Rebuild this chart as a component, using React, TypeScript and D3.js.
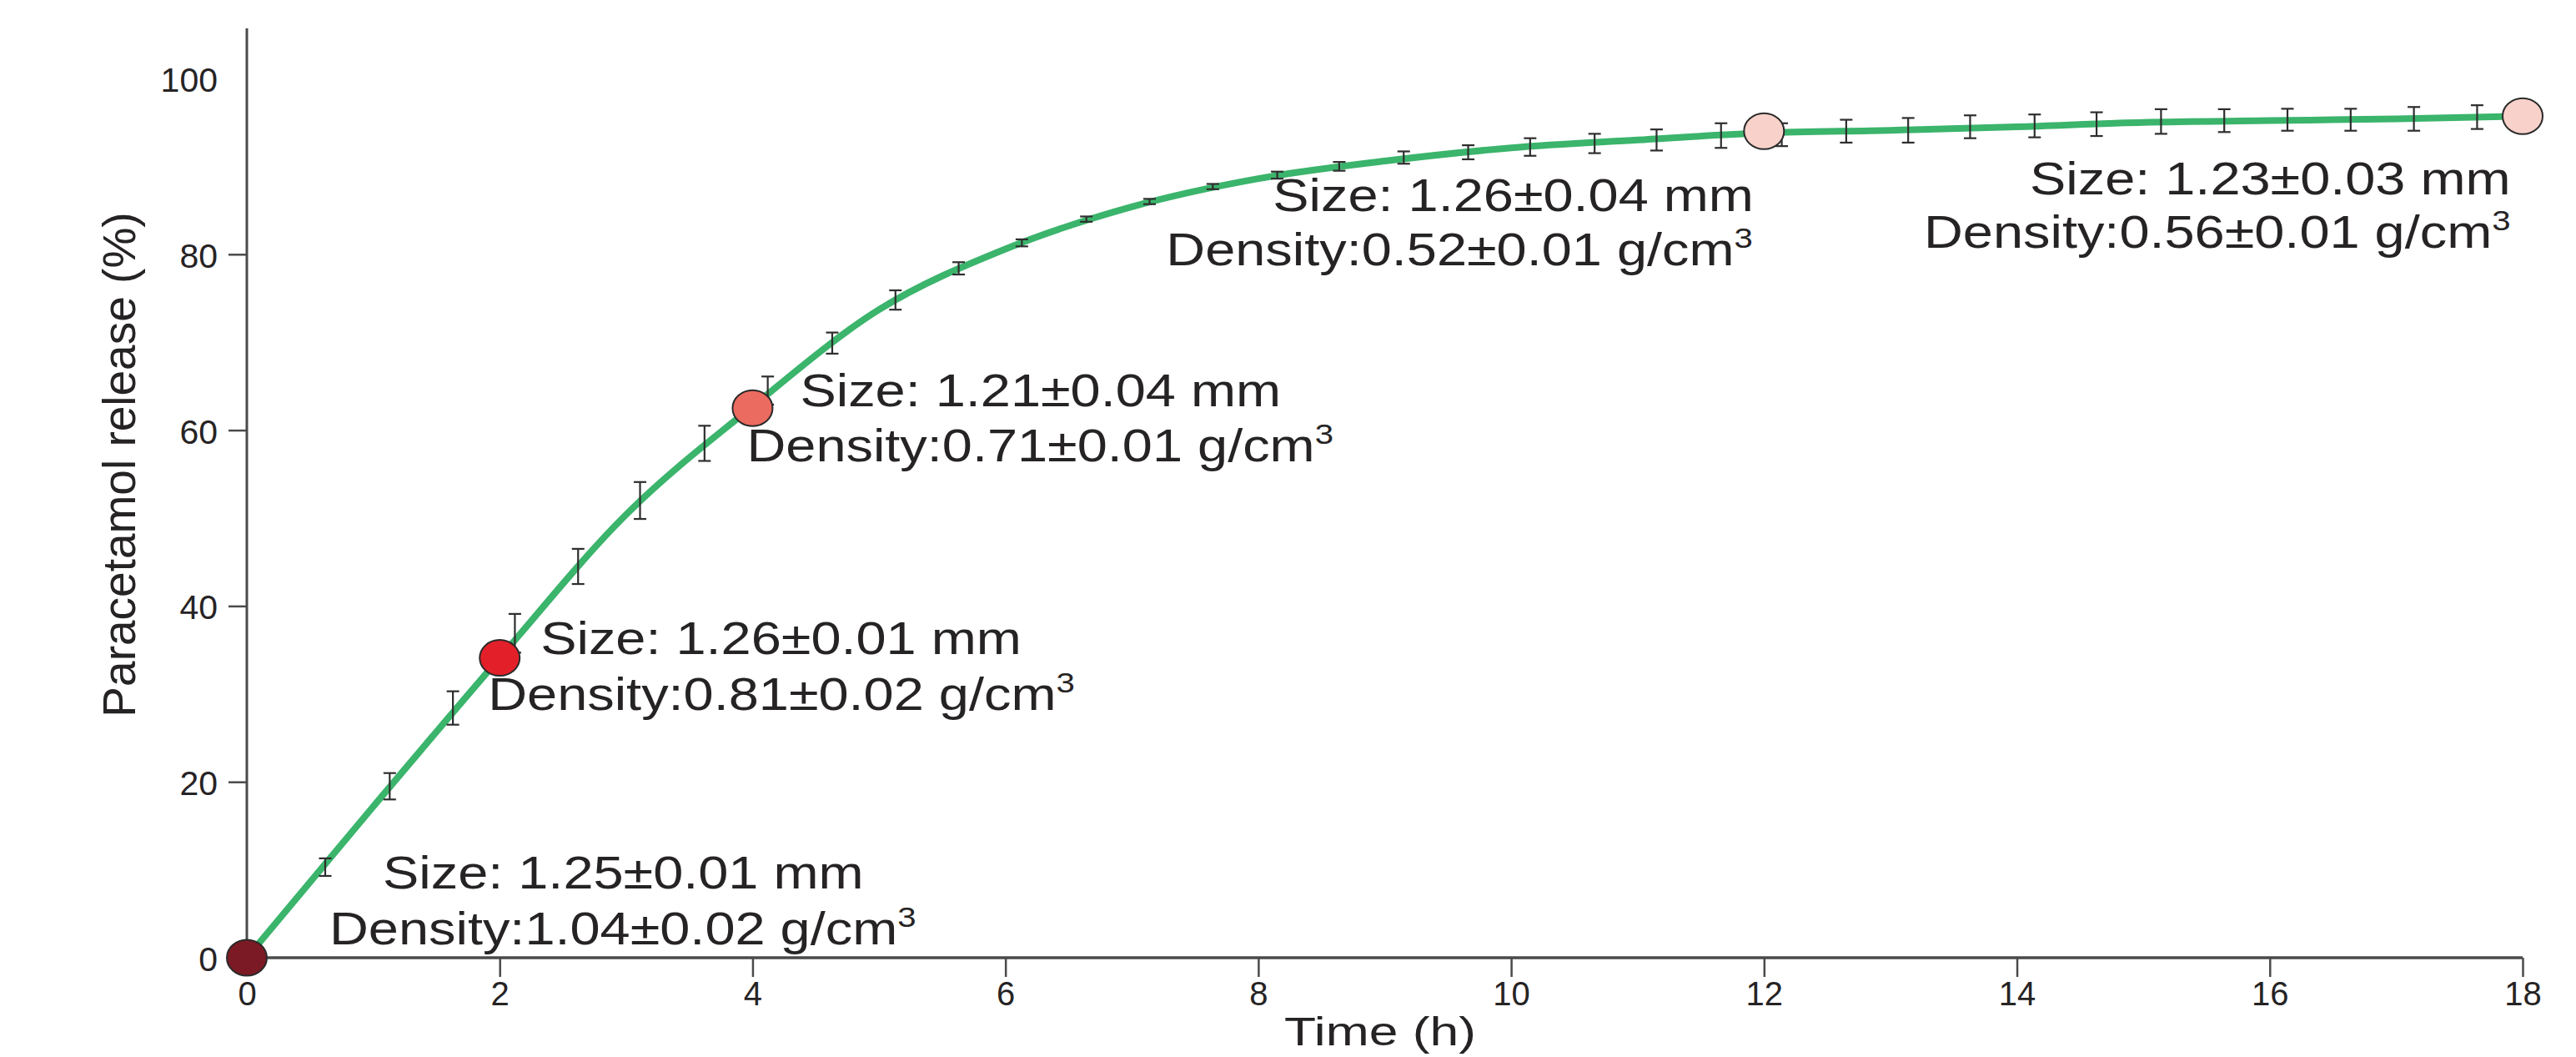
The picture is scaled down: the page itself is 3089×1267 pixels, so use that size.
import * as d3 from "d3";
import { useRef, useEffect } from "react";

// values
const timeTicks = [0, 2, 4, 6, 8, 10, 12, 14, 16, 18];
const releaseTicks = [0, 20, 40, 60, 80, 100];

// fitted release curve (h, %)
const curveTime = [0, 1, 2, 3, 4, 5, 6, 7, 8, 9, 10, 11, 12, 13, 14, 15, 16, 17, 18];
const curveRelease = [0, 17.2, 34.1, 50.4, 62.7, 73.7, 80.6, 85.4, 88.6, 90.6, 92.1, 93.0, 93.8, 94.1, 94.5, 95.0, 95.2, 95.4, 95.7];

// measured points with error bars
const barTime = [0.62, 1.13, 1.63, 2.12, 2.62, 3.11, 3.62, 4.12, 4.63, 5.13, 5.63, 6.13, 6.64, 7.14, 7.64, 8.15, 8.64, 9.15, 9.66, 10.15, 10.66, 11.15, 11.66, 12.14, 12.65, 13.14, 13.63, 14.14, 14.63, 15.14, 15.64, 16.14, 16.64, 17.14, 17.64];
const barMean = [10.3, 19.5, 28.4, 36.9, 44.5, 52.0, 58.5, 64.5, 69.9, 74.8, 78.4, 81.3, 84.0, 86.0, 87.7, 89.0, 90.0, 91.0, 91.6, 92.2, 92.6, 93.0, 93.5, 93.6, 94.0, 94.1, 94.5, 94.6, 94.8, 95.1, 95.2, 95.3, 95.3, 95.4, 95.6];
const barErr = [1.0, 1.5, 1.9, 2.2, 2.0, 2.1, 2.0, 1.6, 1.2, 1.1, 0.7, 0.4, 0.3, 0.3, 0.3, 0.4, 0.5, 0.7, 0.8, 1.0, 1.1, 1.2, 1.4, 1.3, 1.3, 1.4, 1.3, 1.3, 1.35, 1.4, 1.3, 1.25, 1.25, 1.35, 1.35];

// highlighted samples
const markerTime = [0, 2, 4, 12, 18];
const markerRelease = [0, 34.1, 62.5, 94.0, 95.7];
const markerColor = ["#7b1a24", "#e3202a", "#ec6b60", "#f8d2ca", "#f8d2ca"];
const sizeText = [
  "Size: 1.25\u00b10.01 mm",
  "Size: 1.26\u00b10.01 mm",
  "Size: 1.21\u00b10.04 mm",
  "Size: 1.26\u00b10.04 mm",
  "Size: 1.23\u00b10.03 mm",
];
const densityText = [
  "Density:1.04\u00b10.02 g/cm",
  "Density:0.81\u00b10.02 g/cm",
  "Density:0.71\u00b10.01 g/cm",
  "Density:0.52\u00b10.01 g/cm",
  "Density:0.56\u00b10.01 g/cm",
];

const FONT = "'Liberation Sans', Arial, sans-serif";

const App = () => {
  const container = useRef(null);

  useEffect(() => {
    createChart();
  });

  const createChart = () => {
    const width = 3089;
    const height = 1267;
    const ink = "#262324";
    const axisColor = "#4a4a4a";

    // label offsets from each marker: [line1 dx, line1 dy, line2 dx, line2 dy]
    const labelOffsets = [
      [163, -83, 99, -16],
      [49, -5, -14, 62],
      [57, -2, -7, 64],
      [-589, 96, -717, 161],
      [-591, 94, -718, 158],
    ];
    const textStretch = 1.18;

    const svg = d3
      .select(container.current)
      .selectAll("svg")
      .data([0])
      .join("svg")
      .attr("width", width)
      .attr("height", height)
      .style("position", "absolute")
      .style("left", 0)
      .style("top", 0)
      .style("background", "#fff");

    svg.selectAll("*").remove();

    const xScale = d3.scaleLinear().domain([0, 18]).range([296, 3025]);
    const yScale = d3.scaleLinear().domain([0, 100]).range([1148, 94]);

    // axes
    const xAxis = d3
      .axisBottom(xScale)
      .tickValues(timeTicks)
      .tickSize(23)
      .tickSizeOuter(0)
      .tickPadding(6);
    const xg = svg
      .append("g")
      .attr("transform", `translate(0,${yScale(0)})`)
      .call(xAxis);
    xg.select(".domain").remove();
    xg.selectAll(".tick line")
      .attr("stroke", axisColor)
      .attr("stroke-width", 2.5)
      .attr("opacity", (d) => (d === 0 ? 0 : 1));
    xg.selectAll(".tick text")
      .attr("fill", ink)
      .style("font-family", FONT)
      .style("font-size", "40px");

    const yAxis = d3
      .axisLeft(yScale)
      .tickValues(releaseTicks)
      .tickSize(22)
      .tickSizeOuter(0)
      .tickPadding(13);
    const yg = svg
      .append("g")
      .attr("transform", `translate(${xScale(0)},0)`)
      .call(yAxis);
    yg.select(".domain").remove();
    yg.selectAll(".tick line")
      .attr("stroke", axisColor)
      .attr("stroke-width", 2.5)
      .attr("opacity", (d) => (d === 0 || d === 100 ? 0 : 1));
    yg.selectAll(".tick text")
      .attr("fill", ink)
      .attr("dy", "0.38em")
      .style("font-family", FONT)
      .style("font-size", "41px");

    svg
      .append("line")
      .attr("x1", xScale(0))
      .attr("x2", xScale(0))
      .attr("y1", yScale(0))
      .attr("y2", yScale(105.7))
      .attr("stroke", axisColor)
      .attr("stroke-width", 3);
    svg
      .append("line")
      .attr("x1", xScale(0))
      .attr("x2", xScale(18))
      .attr("y1", yScale(0))
      .attr("y2", yScale(0))
      .attr("stroke", axisColor)
      .attr("stroke-width", 3.5);

    // axis titles
    svg
      .append("text")
      .attr("transform", `translate(162,557) rotate(-90)`)
      .attr("text-anchor", "middle")
      .attr("fill", ink)
      .style("font-family", FONT)
      .style("font-size", "55px")
      .text("Paracetamol release (%)");

    svg
      .append("text")
      .attr("transform", `translate(1655,1253) scale(1.3,1)`)
      .attr("text-anchor", "middle")
      .attr("fill", ink)
      .style("font-family", FONT)
      .style("font-size", "48px")
      .text("Time (h)");

    // release curve
    const curvePts = curveTime.map((t, i) => [t, curveRelease[i]]);
    svg
      .append("path")
      .datum(curvePts)
      .attr("fill", "none")
      .attr("stroke", "#3bb46c")
      .attr("stroke-width", 8)
      .attr("stroke-linecap", "round")
      .attr(
        "d",
        d3
          .line()
          .x((d) => xScale(d[0]))
          .y((d) => yScale(d[1]))
          .curve(d3.curveMonotoneX)
      );

    // error bars
    const bars = barTime.map((t, i) => ({ t, m: barMean[i], e: barErr[i] }));
    const capHalf = 7.5;
    const bar_g = svg
      .append("g")
      .attr("stroke", "#2e2e2e")
      .attr("stroke-width", 2.2)
      .attr("fill", "none");
    bar_g
      .selectAll(".bar-v")
      .data(bars)
      .join("line")
      .attr("class", "bar-v")
      .attr("x1", (d) => xScale(d.t))
      .attr("x2", (d) => xScale(d.t))
      .attr("y1", (d) => yScale(d.m - d.e))
      .attr("y2", (d) => yScale(d.m + d.e));
    bar_g
      .selectAll(".bar-top")
      .data(bars)
      .join("line")
      .attr("class", "bar-top")
      .attr("x1", (d) => xScale(d.t) - capHalf)
      .attr("x2", (d) => xScale(d.t) + capHalf)
      .attr("y1", (d) => yScale(d.m + d.e))
      .attr("y2", (d) => yScale(d.m + d.e));
    bar_g
      .selectAll(".bar-bot")
      .data(bars)
      .join("line")
      .attr("class", "bar-bot")
      .attr("x1", (d) => xScale(d.t) - capHalf)
      .attr("x2", (d) => xScale(d.t) + capHalf)
      .attr("y1", (d) => yScale(d.m - d.e))
      .attr("y2", (d) => yScale(d.m - d.e));

    // sample markers
    const markers = markerTime.map((t, i) => ({
      t,
      v: markerRelease[i],
      color: markerColor[i],
      size: sizeText[i],
      density: densityText[i],
      off: labelOffsets[i],
    }));

    svg
      .selectAll(".marker")
      .data(markers)
      .join("ellipse")
      .attr("class", "marker")
      .attr("cx", (d) => xScale(d.t))
      .attr("cy", (d) => yScale(d.v))
      .attr("rx", 24)
      .attr("ry", 21.5)
      .attr("fill", (d) => d.color)
      .attr("stroke", "#2a2a2a")
      .attr("stroke-width", 2);

    // annotations
    svg
      .selectAll(".size-label")
      .data(markers)
      .join("text")
      .attr("class", "size-label")
      .attr(
        "transform",
        (d) =>
          `translate(${xScale(d.t) + d.off[0]},${yScale(d.v) + d.off[1]}) scale(${textStretch},1)`
      )
      .attr("fill", ink)
      .style("font-family", FONT)
      .style("font-size", "55px")
      .text((d) => d.size);

    const dens = svg
      .selectAll(".density-label")
      .data(markers)
      .join("text")
      .attr("class", "density-label")
      .attr(
        "transform",
        (d) =>
          `translate(${xScale(d.t) + d.off[2]},${yScale(d.v) + d.off[3]}) scale(${textStretch},1)`
      )
      .attr("fill", ink)
      .style("font-family", FONT)
      .style("font-size", "55px");
    dens.append("tspan").text((d) => d.density);
    dens
      .append("tspan")
      .attr("dy", -21)
      .style("font-size", "34px")
      .text("3");

    return;
  };

  return <div ref={container}></div>;
};

export default App;
